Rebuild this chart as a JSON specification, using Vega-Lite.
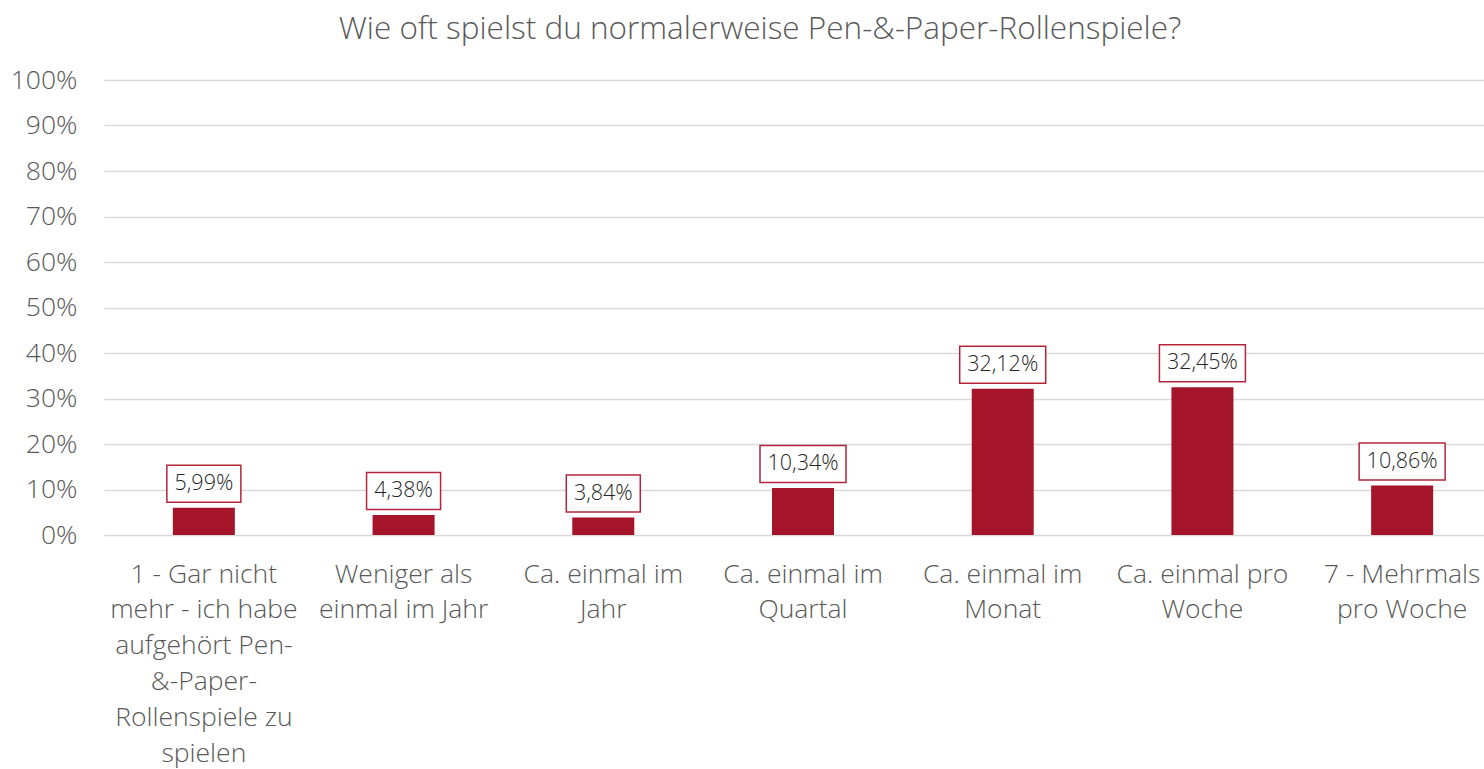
{
  "$schema": "https://vega.github.io/schema/vega-lite/v6.json",
  "autosize": {"type": "none"},
  "width": 1380,
  "height": 455,
  "padding": {"left": 104, "top": 80, "right": 0, "bottom": 234},
  "background": "white",
  "title": {
    "text": "Wie oft spielst du normalerweise Pen-&-Paper-Rollenspiele?",
    "anchor": "middle",
    "frame": "group",
    "baseline": "alphabetic",
    "offset": -3,
    "dx": -34,
    "font": "Open Sans",
    "fontWeight": 300,
    "fontSize": 31.5,
    "color": "#595959"
  },
  "data": {
    "values": [
      {"kategorie": "1 - Gar nicht mehr - ich habe aufgehört Pen-&-Paper-Rollenspiele zu spielen", "anteil": 0.0599},
      {"kategorie": "Weniger als einmal im Jahr", "anteil": 0.0438},
      {"kategorie": "Ca. einmal im Jahr", "anteil": 0.0384},
      {"kategorie": "Ca. einmal im Quartal", "anteil": 0.1034},
      {"kategorie": "Ca. einmal im Monat", "anteil": 0.3212},
      {"kategorie": "Ca. einmal pro Woche", "anteil": 0.3245},
      {"kategorie": "7 - Mehrmals pro Woche", "anteil": 0.1086}
    ]
  },
  "encoding": {
    "x": {
      "field": "kategorie",
      "type": "nominal",
      "sort": null,
      "scale": {"range": [0, 1398], "paddingInner": 0, "paddingOuter": 0},
      "axis": {
        "title": null,
        "domain": false,
        "ticks": false,
        "labelAngle": 0,
        "labelAlign": "center",
        "labelBaseline": "top",
        "labelPadding": 26,
        "labelFont": "Open Sans",
        "labelFontWeight": 300,
        "labelFontSize": 26.5,
        "labelLineHeight": 35.8,
        "labelColor": "#595959",
        "labelLimit": 400,
        "labelOverlap": false,
        "labelExpr": "datum.value == 'Weniger als einmal im Jahr' ? ['Weniger als', 'einmal im Jahr'] : datum.value == 'Ca. einmal im Jahr' ? ['Ca. einmal im', 'Jahr'] : datum.value == 'Ca. einmal im Quartal' ? ['Ca. einmal im', 'Quartal'] : datum.value == 'Ca. einmal im Monat' ? ['Ca. einmal im', 'Monat'] : datum.value == 'Ca. einmal pro Woche' ? ['Ca. einmal pro', 'Woche'] : datum.value == '7 - Mehrmals pro Woche' ? ['7 - Mehrmals', 'pro Woche'] : ['1 - Gar nicht', 'mehr - ich habe', 'aufgehört Pen-', '&-Paper-', 'Rollenspiele zu', 'spielen']"
      }
    },
    "y": {
      "field": "anteil",
      "type": "quantitative",
      "scale": {"domain": [0, 1], "nice": false},
      "axis": {
        "title": null,
        "domain": false,
        "ticks": false,
        "values": [0, 0.1, 0.2, 0.3, 0.4, 0.5, 0.6, 0.7, 0.8, 0.9, 1],
        "format": ".0%",
        "labelPadding": 27,
        "labelFont": "Open Sans",
        "labelFontWeight": 300,
        "labelFontSize": 26.5,
        "labelColor": "#595959",
        "grid": true,
        "gridColor": "#D9D9D9",
        "gridWidth": 1.3
      }
    }
  },
  "layer": [
    {
      "mark": {"type": "bar", "color": "#A51428", "width": 62}
    },
    {
      "transform": [{"filter": "datum.anteil < 0.1"}],
      "mark": {
        "type": "point",
        "shape": "M-1,-0.5H1V0.5H-1Z",
        "size": 5476,
        "filled": false,
        "fill": "white",
        "fillOpacity": 1,
        "stroke": "#B3263A",
        "strokeWidth": 1.5,
        "opacity": 1,
        "yOffset": -24
      }
    },
    {
      "transform": [{"filter": "datum.anteil >= 0.1"}],
      "mark": {
        "type": "point",
        "shape": "M-1,-0.43H1V0.43H-1Z",
        "size": 7396,
        "filled": false,
        "fill": "white",
        "fillOpacity": 1,
        "stroke": "#B3263A",
        "strokeWidth": 1.5,
        "opacity": 1,
        "yOffset": -24
      }
    },
    {
      "mark": {
        "type": "text",
        "font": "Open Sans",
        "fontSize": 21.5,
        "fontWeight": 300,
        "color": "#262626",
        "baseline": "middle",
        "align": "center",
        "yOffset": -24
      },
      "encoding": {
        "text": {"field": "anteil", "type": "quantitative", "format": ".2%"}
      }
    }
  ],
  "config": {
    "view": {"stroke": null},
    "locale": {
      "number": {"decimal": ",", "thousands": ".", "grouping": [3], "currency": ["", " €"], "percent": "%"}
    }
  }
}
